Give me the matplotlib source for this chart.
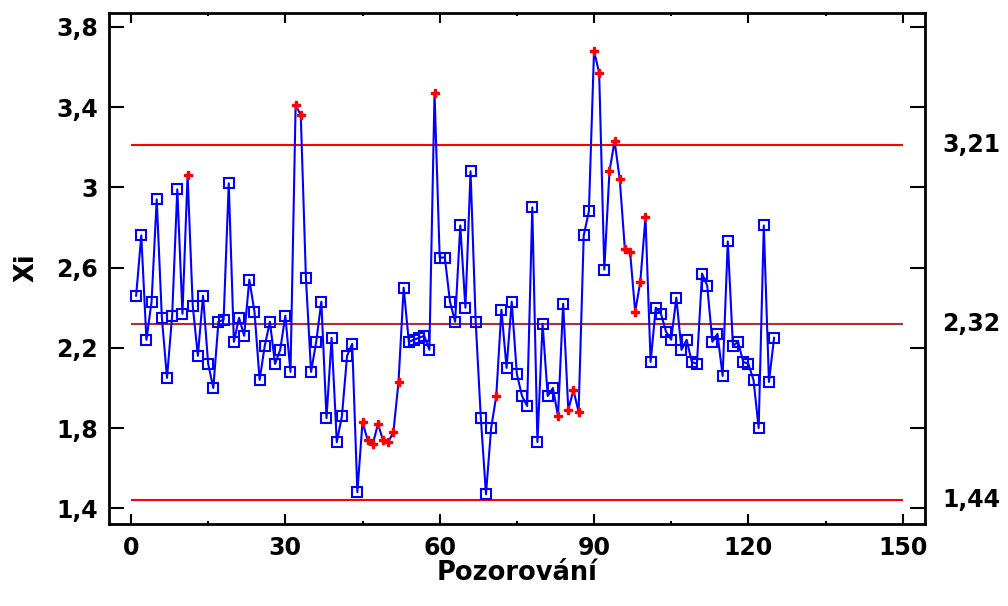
import matplotlib
matplotlib.use("Agg")
import matplotlib.pyplot as plt
import matplotlib.transforms as mtransforms
import numpy as np

# individual observations (Pozorování 1..125)
xi = [2.46, 2.76, 2.24, 2.43, 2.94, 2.35, 2.05, 2.36, 2.99, 2.37,
      3.06, 2.41, 2.16, 2.46, 2.12, 2.00, 2.33, 2.34, 3.02, 2.23,
      2.35, 2.26, 2.54, 2.38, 2.04, 2.21, 2.33, 2.12, 2.19, 2.36,
      2.08, 3.41, 3.36, 2.55, 2.08, 2.23, 2.43, 1.85, 2.25, 1.73,
      1.86, 2.16, 2.22, 1.48, 1.83, 1.74, 1.72, 1.82, 1.74, 1.73,
      1.78, 2.03, 2.50, 2.23, 2.24, 2.25, 2.26, 2.19, 3.47, 2.65,
      2.65, 2.43, 2.33, 2.81, 2.40, 3.08, 2.33, 1.85, 1.47, 1.80,
      1.96, 2.39, 2.10, 2.43, 2.07, 1.96, 1.91, 2.90, 1.73, 2.32,
      1.96, 2.00, 1.86, 2.42, 1.89, 1.99, 1.88, 2.76, 2.88, 3.68,
      3.57, 2.59, 3.08, 3.23, 3.04, 2.69, 2.68, 2.38, 2.53, 2.85,
      2.13, 2.40, 2.37, 2.28, 2.24, 2.45, 2.19, 2.24, 2.13, 2.12,
      2.57, 2.51, 2.23, 2.27, 2.06, 2.73, 2.21, 2.23, 2.13, 2.12,
      2.04, 1.80, 2.81, 2.03, 2.25]

# observations flagged by the control chart rules (drawn in red)
flagged = [11, 32, 33, 45, 46, 47, 48, 49, 50, 51, 52, 59, 71, 83, 85, 86, 87,
           90, 91, 93, 94, 95, 96, 97, 98, 99, 100]

ucl, cl, lcl = 3.21, 2.32, 1.44
limit_labels = ["3,21", "2,32", "1,44"]

plt.rcParams['font.family'] = ['DejaVu Sans']
plt.rcParams['font.weight'] = 'bold'

n = np.arange(1, len(xi) + 1)
xi = np.array(xi)
is_flag = np.isin(n, flagged)

fig = plt.figure(figsize=(10.08, 6.06), dpi=100)
ax = fig.add_axes([0.108, 0.136, 0.810, 0.843])

ax.hlines([ucl, lcl], 0, 150, color='#ff0000', lw=1.5, zorder=1)
ax.hlines(cl, 0, 150, color='#b03030', lw=1.5, zorder=1)

ax.plot(n, xi, color='#0000ff', lw=1.5, zorder=2)
ax.plot(n[~is_flag], xi[~is_flag], ls='none', marker='s', ms=7,
        mfc='none', mec='#0000ff', mew=1.5, zorder=3)
ax.plot(n[is_flag], xi[is_flag], ls='none', marker='P', ms=5.5,
        color='#ff0000', mec='#ff0000', zorder=3)

ax.set_xlim(-4.3, 154.4)
ax.set_ylim(1.324, 3.87)
ax.set_xticks(np.arange(0, 151, 30))
ax.set_xticks(np.arange(15, 151, 30), minor=True)
ax.set_yticks([1.4, 1.8, 2.2, 2.6, 3.0, 3.4, 3.8])
ax.set_yticklabels(['1,4', '1,8', '2,2', '2,6', '3', '3,4', '3,8'])

ax.tick_params(axis='x', which='major', direction='in', length=7, width=1.5,
               top=True, labelsize=17, pad=9)
ax.tick_params(axis='x', which='minor', direction='in', length=2.5, width=1.5,
               top=True)
ax.tick_params(axis='y', which='major', direction='in', length=11, width=1.5,
               right=True, labelsize=17, pad=8)
for sp in ax.spines.values():
    sp.set_linewidth(2)

ax.set_xlabel('Pozorování', fontsize=18.5, fontweight='bold', labelpad=0)
ax.set_ylabel('Xi', fontsize=18.5, fontweight='bold', labelpad=12)

trans = mtransforms.blended_transform_factory(ax.transAxes, ax.transData)
for val, lab in zip([ucl, cl, lcl], limit_labels):
    ax.text(1.021, val, lab, transform=trans, ha='left', va='center',
            fontsize=17, fontweight='bold')

fig.savefig('out.png', dpi=100)
